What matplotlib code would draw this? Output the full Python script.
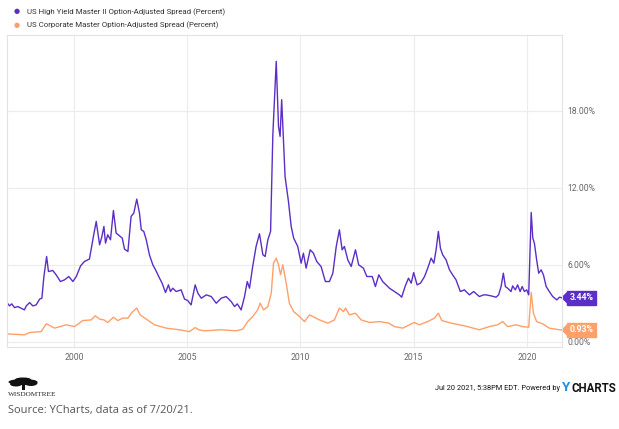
import numpy as np
import matplotlib.pyplot as plt
from matplotlib.patches import Polygon, Ellipse, Rectangle

plt.rcParams['font.family'] = ['Roboto', 'DejaVu Sans']

# US High Yield Master II OAS (percent) (decimal years)
hy_t = [1997.04, 1997.15, 1997.25, 1997.37, 1997.52, 1997.67, 1997.81, 1997.89, 1998.04, 1998.18,
        1998.33, 1998.48, 1998.58, 1998.67, 1998.79, 1998.87, 1999.06, 1999.21, 1999.40, 1999.58,
        1999.77, 1999.95, 2000.10, 2000.29, 2000.46, 2000.68, 2000.79, 2000.87, 2000.98, 2001.13,
        2001.23, 2001.32, 2001.39, 2001.49, 2001.61, 2001.74, 2001.86, 2002.01, 2002.13, 2002.23,
        2002.38, 2002.52, 2002.64, 2002.77, 2002.89, 2002.97, 2003.08, 2003.19, 2003.33, 2003.48,
        2003.60, 2003.74, 2003.89, 2004.04, 2004.17, 2004.26, 2004.36, 2004.51, 2004.73, 2004.88,
        2005.02, 2005.17, 2005.35, 2005.47, 2005.62, 2005.84, 2006.06, 2006.28, 2006.50, 2006.72,
        2006.94, 2007.09, 2007.21, 2007.38, 2007.53, 2007.65, 2007.75, 2007.89, 2008.04, 2008.19,
        2008.34, 2008.44, 2008.56, 2008.68, 2008.78, 2008.93, 2009.03, 2009.10, 2009.17, 2009.32,
        2009.47, 2009.59, 2009.70, 2009.88, 2010.03, 2010.13, 2010.25, 2010.43, 2010.57, 2010.72,
        2010.91, 2011.10, 2011.28, 2011.43, 2011.58, 2011.72, 2011.84, 2011.94, 2012.09, 2012.24,
        2012.43, 2012.57, 2012.78, 2012.93, 2013.17, 2013.31, 2013.46, 2013.63, 2013.93, 2014.15,
        2014.37, 2014.47, 2014.62, 2014.77, 2014.89, 2015.00, 2015.15, 2015.30, 2015.48, 2015.62,
        2015.77, 2015.89, 2015.99, 2016.09, 2016.18, 2016.28, 2016.43, 2016.58, 2016.72, 2016.87,
        2017.06, 2017.24, 2017.46, 2017.65, 2017.90, 2018.09, 2018.20, 2018.42, 2018.64, 2018.75,
        2018.86, 2018.96, 2019.05, 2019.15, 2019.30, 2019.37, 2019.49, 2019.59, 2019.70, 2019.79,
        2019.89, 2019.99, 2020.08, 2020.19, 2020.26, 2020.33, 2020.43, 2020.52, 2020.63, 2020.73,
        2020.85, 2020.99, 2021.14, 2021.32, 2021.44, 2021.53]
hy_v = [3.06, 2.80, 2.96, 2.67, 2.75, 2.62, 2.49, 2.80, 3.06, 2.80,
        2.88, 3.33, 3.40, 5.09, 6.65, 5.48, 5.56, 5.22, 4.70, 4.83,
        5.09, 4.70, 5.09, 5.92, 6.26, 6.45, 7.56, 8.34, 9.38, 7.56,
        8.20, 8.99, 7.69, 8.34, 7.95, 10.23, 8.47, 8.26, 8.08, 7.22,
        7.04, 9.77, 10.03, 11.12, 10.03, 8.73, 8.60, 7.95, 6.78, 6.00,
        5.61, 5.09, 4.57, 3.84, 4.44, 3.92, 4.18, 3.92, 4.05, 3.33,
        3.22, 2.88, 4.44, 3.79, 3.40, 3.66, 3.53, 3.01, 3.40, 3.53,
        3.14, 2.75, 2.96, 2.49, 3.53, 4.70, 4.18, 5.87, 7.43, 8.42,
        6.78, 6.65, 7.95, 8.60, 16.13, 21.85, 16.78, 16.00, 18.86, 12.88,
        10.93, 8.99, 8.08, 7.43, 6.13, 6.91, 5.74, 7.17, 6.91, 6.26,
        5.87, 4.70, 4.70, 5.35, 7.43, 8.73, 7.17, 7.43, 6.39, 5.87,
        7.17, 6.00, 5.74, 5.09, 5.09, 4.31, 5.22, 4.70, 4.18, 3.92,
        3.66, 3.48, 4.31, 4.96, 4.57, 5.40, 4.44, 4.57, 5.09, 5.74,
        6.52, 6.13, 7.17, 8.60, 7.30, 6.78, 6.39, 5.61, 5.22, 4.83,
        3.92, 4.05, 3.66, 3.92, 3.53, 3.66, 3.66, 3.58, 3.48, 3.66,
        4.31, 5.35, 4.31, 4.18, 3.92, 4.36, 4.05, 4.44, 3.92, 4.31,
        3.92, 4.05, 3.66, 10.08, 8.08, 7.69, 6.39, 5.35, 5.61, 5.22,
        4.31, 3.92, 3.53, 3.27, 3.48, 3.44]

# US Corporate Master OAS (percent)
cp_t = [1997.04, 1997.81, 1998.04, 1998.55, 1998.77, 1998.87, 1999.14, 1999.66, 2000.02, 2000.39,
        2000.76, 2000.94, 2001.13, 2001.32, 2001.49, 2001.74, 2001.93, 2002.15, 2002.38, 2002.55,
        2002.77, 2002.92, 2003.19, 2003.55, 2004.07, 2004.66, 2005.10, 2005.35, 2005.51, 2005.76,
        2006.50, 2007.16, 2007.45, 2007.67, 2007.89, 2008.11, 2008.22, 2008.37, 2008.56, 2008.71,
        2008.81, 2008.93, 2009.03, 2009.12, 2009.22, 2009.37, 2009.51, 2009.70, 2009.96, 2010.18,
        2010.40, 2010.84, 2011.21, 2011.50, 2011.72, 2011.90, 2011.99, 2012.16, 2012.43, 2012.68,
        2013.05, 2013.49, 2013.90, 2014.15, 2014.52, 2014.81, 2015.03, 2015.25, 2015.62, 2015.92,
        2016.09, 2016.24, 2016.65, 2017.24, 2017.90, 2018.34, 2018.71, 2018.93, 2019.15, 2019.52,
        2019.81, 2020.08, 2020.19, 2020.29, 2020.43, 2020.70, 2020.99, 2021.44, 2021.53]
cp_v = [0.62, 0.55, 0.73, 0.80, 1.40, 1.33, 1.07, 1.33, 1.19, 1.66,
        1.71, 2.03, 1.77, 1.71, 1.51, 1.92, 1.66, 1.85, 1.85, 2.28,
        2.63, 2.10, 1.77, 1.33, 1.07, 0.94, 0.80, 1.11, 0.94, 0.86,
        0.94, 0.86, 0.99, 1.58, 1.97, 2.49, 3.01, 2.49, 2.75, 3.79,
        6.13, 6.52, 6.00, 5.22, 6.00, 4.57, 3.01, 2.36, 1.97, 1.58,
        2.10, 1.71, 1.46, 1.71, 2.63, 2.36, 2.63, 2.10, 2.23, 1.71,
        1.51, 1.58, 1.46, 1.19, 1.07, 1.33, 1.51, 1.33, 1.58, 1.85,
        2.23, 1.66, 1.46, 1.25, 0.94, 1.19, 1.33, 1.58, 1.19, 1.33,
        1.19, 1.14, 3.84, 2.23, 1.58, 1.40, 1.07, 0.94, 0.93]

hy_name = 'US High Yield Master II Option-Adjusted Spread (Percent)'
cp_name = 'US Corporate Master Option-Adjusted Spread (Percent)'
yticks = [0, 6, 12, 18]
xticks = [2000, 2005, 2010, 2015, 2020]

purple = '#5b2ec6'
orange = '#ffa06a'
grid_c = '#ececec'

fig = plt.figure(figsize=(6.19, 4.29), dpi=100)
ax = fig.add_axes([7/619, 1-347/429, (562-7)/619, (347-35)/429])

ax.plot(hy_t, hy_v, color=purple, lw=1.0)
ax.plot(cp_t, cp_v, color=orange, lw=1.0)

ax.set_xlim(1997.04, 2021.55)
ax.set_ylim(-0.4, 23.9)
ax.set_xticks(xticks)
ax.set_xticklabels([str(x) for x in xticks])
ax.set_yticks(yticks)
ax.set_yticklabels(['%.2f%%' % y for y in yticks])
ax.yaxis.tick_right()
ax.tick_params(length=0, labelsize=6.2, colors='#666666', pad=4)
ax.grid(True, color=grid_c, lw=0.8)
for s in ax.spines.values():
    s.set_color('#e3e3e3')
    s.set_linewidth(0.8)

# end-value tags
for val, col in [(hy_v[-1], purple), (cp_v[-1], orange)]:
    ax.annotate('%.2f%%' % val, xy=(1.0, val), xycoords=('axes fraction', 'data'),
                xytext=(5.3, 0), textcoords='offset points', ha='left', va='center',
                fontsize=6.3, color='white', fontweight='bold',
                bbox=dict(boxstyle='square,pad=0.3', fc=col, ec=col))
    tri = Polygon([[1.0, val], [1.0 + 6/555, val + 0.45], [1.0 + 6/555, val - 0.45]],
                  closed=True, fc=col, ec=col, transform=ax.get_yaxis_transform(), clip_on=False)
    ax.add_patch(tri)

# legend
for i, (name, col) in enumerate([(hy_name, purple), (cp_name, orange)]):
    y = 1 - (12 + 13 * i) / 429
    fig.text(17/619, y, '\u25cf', color=col, fontsize=5, ha='center', va='center')
    fig.text(27/619, y, name, color='#333333', fontsize=5.7, ha='left', va='center')

# footer: WisdomTree logo approximation
W, H = 619, 429
for cx, cy, w, h in [(23, 382, 29, 6), (16, 384, 12, 5), (31, 383, 13, 6), (23, 379.5, 16, 4)]:
    fig.patches.append(Ellipse((cx / W, 1 - cy / H), w / W, h / H, fc='#111111', ec='none',
                               transform=fig.transFigure))
fig.patches.append(Rectangle((22 / W, 1 - 390 / H), 2.5 / W, 6 / H, fc='#111111', ec='none',
                             transform=fig.transFigure))
fig.text(8/619, 1-394/429, 'WISDOMTREE', family='Liberation Serif', fontsize=5.2,
         color='#222222', ha='left', va='center')

fig.text(560/619, 1-388/429, 'Jul 20 2021, 5:38PM EDT. Powered by', fontsize=5.3,
         color='#111111', ha='right', va='center')
fig.text(562/619, 1-387.5/429, 'Y', fontsize=9.5, color='#1e8fe0',
         ha='left', va='center', fontweight='bold')
fig.text(571/619, 1-388/429, 'CHARTS', fontsize=8.3, color='#111111',
         ha='left', va='center', fontweight='bold')
fig.text(8/619, 1-410/429, 'Source: YCharts, data as of 7/20/21.', family='Open Sans',
         fontsize=8, color='#555555', ha='left', va='center')

fig.savefig('out.png', dpi=100)
